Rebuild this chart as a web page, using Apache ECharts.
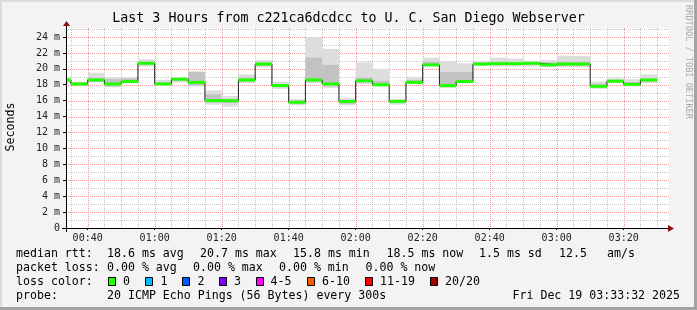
<!DOCTYPE html>
<html>
<head>
<meta charset="utf-8">
<script src="https://cdn.jsdelivr.net/npm/echarts@6/dist/echarts.min.js"></script>
<style>
html,body{margin:0;padding:0;background:#f3f3f3;}
#chart{width:697px;height:310px;}
</style>
</head>
<body>
<div id="chart"></div>
<script>
// ---- data (segment end times, 5-minute steps) ----
const segEnd = ['00:35','00:40','00:45','00:50','00:55','01:00','01:05','01:10','01:15','01:20','01:25','01:30',
                '01:35','01:40','01:45','01:50','01:55','02:00','02:05','02:10','02:15','02:20','02:25','02:30',
                '02:35','02:40','02:45','02:50','02:55','03:00','03:05','03:10','03:15','03:20','03:25','03:30'];
const median  = [18.6,18.1,18.6,18.1,18.4,20.7,18.1,18.7,18.3,16.0,16.0,18.6,20.6,17.9,15.8,18.6,18.1,15.9,
                 18.5,18.0,15.9,18.3,20.5,17.9,18.4,20.6,20.65,20.65,20.7,20.5,20.6,20.6,17.8,18.45,18.05,18.6];
const smokeMin = [18.2,17.8,18.3,17.7,18.2,20.3,17.9,18.3,17.8,15.5,15.25,18.2,20.2,17.5,15.4,18.2,17.6,15.4,
                  18.1,17.8,15.5,18.1,20.3,17.6,18.2,20.4,20.3,20.3,20.3,20.2,20.2,20.2,17.5,18.2,17.8,18.2];
const smokeMax = [18.9,18.4,19.5,18.95,18.9,21.2,18.6,18.9,19.7,17.3,16.6,19.3,21.1,18.4,16.2,24.0,22.5,16.3,
                  20.8,20.0,16.2,19.0,21.4,20.95,20.7,20.9,21.4,21.3,21.0,21.1,21.65,21.6,18.4,18.8,18.7,19.3];
const smokeLo  = [18.4,17.9,18.4,17.8,18.4,20.5,18.0,18.5,17.9,15.8,15.7,18.4,20.4,17.7,15.6,18.4,17.8,15.6,
                  18.3,17.9,15.7,18.2,20.4,17.7,18.3,20.5,20.5,20.5,20.5,20.4,20.4,20.4,17.7,18.3,17.9,18.4];
const smokeHi  = [18.7,18.2,18.9,18.7,18.8,20.9,18.3,18.8,19.6,16.8,16.2,18.9,20.8,18.1,16.0,21.4,20.5,16.0,
                  18.9,18.5,16.0,18.6,20.9,19.6,19.6,20.8,20.9,20.8,20.8,20.8,20.9,20.9,18.1,18.6,18.3,18.8];
const xMajorLabels = ['00:40','01:00','01:20','01:40','02:00','02:20','02:40','03:00','03:20'];
const xMinorLabels = ['00:35','00:45','00:50','00:55','01:05','01:10','01:15','01:25','01:30','01:35','01:45',
                      '01:50','01:55','02:05','02:10','02:15','02:25','02:30','02:35','02:45','02:50','02:55',
                      '03:05','03:10','03:15','03:25','03:30'];
const yMajorTicks = [0,2,4,6,8,10,12,14,16,18,20,22,24];
const yMinorTicks = [1,3,5,7,9,11,13,15,17,19,21,23,25];
const rangeStart = '00:33:32', rangeEnd = '03:33:32';
const STEP = 5;

function toMin(s){ const p = s.split(':').map(Number); return p[0]*60 + p[1] + (p[2]||0)/60; }
function fmt(m){ const h = Math.floor(m/60), mm = Math.round(m%60); return String(h).padStart(2,'0')+':'+String(mm).padStart(2,'0'); }

const xMin = toMin(rangeStart), xMax = toMin(rangeEnd);
const xMajor = xMajorLabels.map(toMin), xMinor = xMinorLabels.map(toMin);

const outerData = segEnd.map((t,i)=>[toMin(t), smokeMin[i], smokeMax[i]]);
const innerData = segEnd.map((t,i)=>[toMin(t), smokeLo[i], smokeHi[i]]);
const medData = segEnd.map((t,i)=>[toMin(t), median[i]]);

function rectItem(color){
  return function(params, api){
    const t = api.value(0), lo = api.value(1), hi = api.value(2);
    const p1 = api.coord([t - STEP, hi]), p2 = api.coord([t, lo]);
    const cs = params.coordSys;
    const shape = echarts.graphic.clipRectByRect(
      {x:p1[0], y:p1[1], width:p2[0]-p1[0], height:p2[1]-p1[1]},
      {x:cs.x, y:cs.y, width:cs.width, height:cs.height});
    return shape && {type:'rect', shape: shape, style:{fill:color}};
  };
}
function segItem(params, api){
  const t = api.value(0), v = api.value(1);
  const p1 = api.coord([t - STEP, v]), p2 = api.coord([t, v]);
  const cs = params.coordSys;
  const x1 = Math.max(p1[0], cs.x), x2 = Math.min(p2[0], cs.x + cs.width);
  return {type:'line', shape:{x1:x1, y1:p1[1], x2:x2, y2:p2[1]}, style:{stroke:'#22ff00', lineWidth:3}};
}
// grid lines drawn through the axis scales
function vLine(color){
  return function(params, api){
    const cs = params.coordSys;
    const x = Math.round(api.coord([api.value(0), 0])[0]) + 0.5;
    return {type:'line', shape:{x1:x, y1:cs.y, x2:x, y2:cs.y+cs.height},
            style:{stroke:color, lineWidth:1, lineDash:[1,1]}};
  };
}
function hLine(color){
  return function(params, api){
    const cs = params.coordSys;
    const y = Math.round(api.coord([cs.x, api.value(0)])[1]) + 0.5;
    return {type:'line', shape:{x1:cs.x, y1:y, x2:cs.x+cs.width, y2:y},
            style:{stroke:color, lineWidth:1, lineDash:[1,1]}};
  };
}

const MONO = '"DejaVu Sans Mono", monospace';

function txt(x, y, s, opt){
  opt = opt || {};
  return {type:'text', x:x, y:y, rotation: opt.rot || 0, z: 100, silent:true,
    style:{text:s, font:(opt.size||11.6)+'px '+MONO, fill:opt.color||'#000',
           align:opt.align||'left', verticalAlign:'middle'}};
}
function box(x, y, color){
  return {type:'rect', z:100, shape:{x:x+0.5, y:y+0.5, width:7, height:8},
          style:{fill:color, stroke:'#000', lineWidth:1}};
}

const L1 = 254, L2 = 268, L3 = 282, L4 = 296;
const graphics = [
  // frame
  {type:'rect', z:-1, shape:{x:0,y:0,width:697,height:2}, style:{fill:'#dcdcdc'}},
  {type:'rect', z:-1, shape:{x:0,y:0,width:2,height:310}, style:{fill:'#dcdcdc'}},
  {type:'rect', z:-1, shape:{x:0,y:307,width:697,height:3}, style:{fill:'#a3a3a3'}},
  {type:'rect', z:-1, shape:{x:694,y:0,width:3,height:310}, style:{fill:'#a3a3a3'}},
  // axis lines + arrows
  {type:'line', z:90, shape:{x1:62, y1:228.5, x2:669, y2:228.5}, style:{stroke:'#000', lineWidth:1}},
  {type:'line', z:90, shape:{x1:66.5, y1:232, x2:66.5, y2:25}, style:{stroke:'#000', lineWidth:1}},
  {type:'polygon', z:91, shape:{points:[[668,225],[674,228.5],[668,232]]}, style:{fill:'#8b1010'}},
  {type:'polygon', z:91, shape:{points:[[63,26],[66.5,21],[70,26]]}, style:{fill:'#8b1010'}},
  // texts
  txt(348.5, 19, 'Last 3 Hours from c221ca6dcdcc to U. C. San Diego Webserver', {size:13.3, align:'center'}),
  txt(11, 127, 'Seconds', {rot:Math.PI/2, align:'center', size:11.6}),
  txt(688, 62, 'RRDTOOL / TOBI OETIKER', {rot:-Math.PI/2, align:'center', size:8.6, color:'#aaaaaa'}),
  txt(16, L1, 'median rtt:'), txt(107, L1, '18.6 ms avg'), txt(200, L1, '20.7 ms max'),
  txt(293, L1, '15.8 ms min'), txt(386.5, L1, '18.5 ms now'), txt(479, L1, '1.5 ms sd'),
  txt(559, L1, '12.5'), txt(607, L1, 'am/s'),
  txt(16, L2, 'packet loss:'), txt(107, L2, '0.00 % avg'), txt(193, L2, '0.00 % max'),
  txt(279, L2, '0.00 % min'), txt(365.5, L2, '0.00 % now'),
  txt(16, L3, 'loss color:'),
  box(108, 277, '#22ff00'), txt(123, L3, '0'),
  box(145, 277, '#00b8ff'), txt(160.5, L3, '1'),
  box(182, 277, '#0059ff'), txt(197.5, L3, '2'),
  box(219, 277, '#7e00ff'), txt(234, L3, '3'),
  box(256, 277, '#ff00ff'), txt(270.5, L3, '4-5'),
  box(307, 277, '#ff5a00'), txt(322, L3, '6-10'),
  box(365, 277, '#ff0000'), txt(380, L3, '11-19'),
  box(430, 277, '#a00000'), txt(445, L3, '20/20'),
  txt(16, L4, 'probe:'), txt(107, L4, '20 ICMP Echo Pings (56 Bytes) every 300s'),
  txt(680, L4, 'Fri Dec 19 03:33:32 2025', {align:'right'})
];

const chart = echarts.init(document.getElementById('chart'), null, {renderer:'canvas'});
chart.setOption({
  animation:false,
  backgroundColor:'#f3f3f3',
  grid:{left:66, top:28, width:603, height:200, show:true, backgroundColor:'#ffffff', borderWidth:0},
  xAxis:{type:'value', min:xMin, max:xMax,
     axisLine:{show:false},
     axisTick:{show:true, length:2, customValues:xMajor, lineStyle:{color:'#000'}},
     axisLabel:{show:true, customValues:xMajor, formatter:v=>fmt(v), margin:5,
                fontFamily:'DejaVu Sans Mono', fontSize:10, color:'#222'},
     splitLine:{show:false}},
  yAxis:{type:'value', min:0, max:25.13,
     axisLine:{show:false},
     axisTick:{show:true, length:3, customValues:yMajorTicks, lineStyle:{color:'#000'}},
     axisLabel:{show:true, customValues:yMajorTicks, formatter:v=> v===0 ? '0' : v+' m', margin:6,
                fontFamily:'DejaVu Sans Mono', fontSize:10, color:'#222'},
     splitLine:{show:false}},
  series:[
    {type:'custom', name:'grid minor x', renderItem:vLine('#c4c4c4'), data:xMinor.map(v=>[v]), encode:{x:0}, z:1, silent:true},
    {type:'custom', name:'grid minor y', renderItem:hLine('#c4c4c4'), data:yMinorTicks.map(v=>[v]), encode:{y:0}, z:1, silent:true},
    {type:'custom', name:'grid major x', renderItem:vLine('#ee9a9a'), data:xMajor.map(v=>[v]), encode:{x:0}, z:1, silent:true},
    {type:'custom', name:'grid major y', renderItem:hLine('#ee9a9a'), data:yMajorTicks.map(v=>[v]), encode:{y:0}, z:1, silent:true},
    {type:'custom', name:'smoke outer', renderItem:rectItem('#dddddd'),
     data:outerData, encode:{x:0, y:[1,2]}, z:2, silent:true},
    {type:'custom', name:'smoke inner', renderItem:rectItem('#c2c2c2'),
     data:innerData, encode:{x:0, y:[1,2]}, z:3, silent:true},
    {type:'line', name:'median step', step:'start', data:medData,
     showSymbol:false, symbol:'none', lineStyle:{color:'#202020', width:1}, z:6, silent:true},
    {type:'custom', name:'median', renderItem:segItem,
     data:medData, encode:{x:0, y:1}, z:7, silent:true}
  ],
  graphic:{elements:graphics}
});
</script>
</body>
</html>
